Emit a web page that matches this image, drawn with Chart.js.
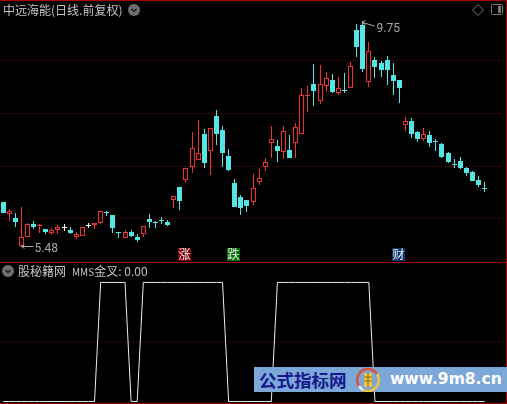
<!DOCTYPE html>
<html>
<head>
<meta charset="utf-8">
<title>中远海能</title>
<script src="https://cdn.jsdelivr.net/npm/chart.js@4"></script>
<style>
    html, body { margin: 0; padding: 0; background: #000; }
    #page { position: relative; width: 507px; height: 404px; overflow: hidden; background: #000; }
    canvas { position: absolute; left: 0; display: block; }
    .rule { position: absolute; background: #a80000; }
    .caption { position: absolute; color: #c4c4c4; font: 12px/14px "Noto Sans CJK SC", sans-serif; white-space: nowrap; }
    .caption .small { font-size: 10px; }
    svg { position: absolute; }
    #banner { position: absolute; left: 254px; top: 367px; width: 253px; height: 25px; background: #7ba7d9; }
    #banner .cn { position: absolute; left: 5px; top: 2px; color: #17188c; font: bold 17.5px/21px "Noto Sans CJK SC", sans-serif; white-space: nowrap; }
    #banner .url { position: absolute; left: 136px; top: 3px; color: #fff; font: bold 15.5px/19px "DejaVu Sans", sans-serif; white-space: nowrap; }
</style>
</head>
<body>
<div id="page">
    <canvas id="price_chart" width="507" height="262" style="top:0"></canvas>
    <canvas id="mms_chart" width="507" height="142" style="top:262px"></canvas>

    <!-- grid stops short of the right frame -->
    <div style="position:absolute;left:502px;top:0;width:5px;height:404px;background:#000"></div>
    <div class="rule" style="left:0;top:0;width:507px;height:1px"></div>
    <div class="rule" style="left:0;top:262px;width:507px;height:1px"></div>
    <div class="rule" style="left:0;top:403px;width:507px;height:1px"></div>
    <div class="rule" style="left:506px;top:0;width:1px;height:404px"></div>

    <div class="caption" style="left:3px;top:3px">中远海能(日线.前复权)</div>
    <div class="caption" style="left:18px;top:264px">股秘籍网</div>
    <div class="caption" style="left:72px;top:264px"><span class="small">MMS</span>金叉: 0.00</div>

    <svg style="left:128px;top:4px" width="12" height="12"><circle cx="6" cy="6" r="6" fill="#6e6e6e"/><path d="M3.5 5 L6 7.5 L8.5 5" fill="none" stroke="#111" stroke-width="1.2"/></svg>
    <svg style="left:2px;top:265px" width="12" height="12"><circle cx="6" cy="6" r="6" fill="#6e6e6e"/><path d="M3.5 5 L6 7.5 L8.5 5" fill="none" stroke="#111" stroke-width="1.2"/></svg>
    <svg style="left:472px;top:4px" width="12" height="12"><path d="M6 .5 L11.5 6 L6 11.5 L.5 6 Z" fill="none" stroke="#777"/></svg>
    <svg style="left:491px;top:4px" width="12" height="12"><rect x=".5" y=".5" width="11" height="10" rx="1" fill="none" stroke="#777"/><rect x="7" y="2" width="3" height="7" fill="#777"/></svg>

    <div id="banner">
        <div class="cn">公式指标网</div>
        <svg style="left:102px;top:1px" width="24" height="24">
            <path d="M3 18 A11 11 0 0 1 12 1 A11 11 0 0 1 21 6" fill="none" stroke="#d9533f" stroke-width="2.5"/>
            <path d="M21 6 A11 11 0 0 1 7 22" fill="none" stroke="#f0c53c" stroke-width="2.5"/>
            <path d="M3 18 A11 11 0 0 0 7 22" fill="none" stroke="#e8eef5" stroke-width="2.5"/>
            <rect x="8" y="5" width="8" height="14" fill="#f0c53c"/>
            <path d="M8 9 H16 M8 13 H16 M12 5 V19" stroke="#8a6a20" stroke-width="1"/>
        </svg>
        <div class="url">www.9m8.cn</div>
    </div>
</div>

<script>
// one slot per trading day, the last three stay empty on the right
const days = [
    1, 2, 3, 4, 5, 6, 7, 8, 9, 10, 11, 12, 13, 14, 15, 16, 17, 18, 19, 20,
    21, 22, 23, 24, 25, 26, 27, 28, 29, 30, 31, 32, 33, 34, 35, 36, 37, 38, 39, 40,
    41, 42, 43, 44, 45, 46, 47, 48, 49, 50, 51, 52, 53, 54, 55, 56, 57, 58, 59, 60,
    61, 62, 63, 64, 65, 66, 67, 68, 69, 70, 71, 72, 73, 74, 75, 76, 77, 78, 79, 80,
    81, 82, 83
];

const opens = [
    6.33, 6.10, 6.02, 5.49, 5.67, 5.91, 5.87, 5.82, 5.74, 5.80,
    5.85, 5.80, 5.67, 5.68, 5.89, 5.89, 5.93, 6.14, 6.08, 5.76,
    5.65, 5.76, 5.67, 5.72, 6.00, 5.95, 5.99, 5.95, 6.36, 6.61,
    6.74, 6.99, 7.12, 7.61, 7.29, 7.95, 7.69, 7.20, 6.68, 6.42,
    6.36, 6.33, 6.70, 6.99, 7.44, 7.38, 7.27, 7.31, 7.44, 7.61,
    8.33, 8.55, 8.23, 8.52, 8.63, 8.38, 8.44, 8.48, 9.57, 9.67,
    8.59, 9.01, 8.95, 9.01, 8.72, 8.63, 7.78, 7.86, 7.65, 7.52,
    7.59, 7.48, 7.42, 7.25, 7.04, 7.10, 6.97, 6.89, 6.74, 6.59
];
const closes = [
    6.12, 6.16, 5.95, 5.67, 5.91, 5.85, 5.89, 5.76, 5.80, 5.85,
    5.85, 5.74, 5.72, 5.85, 5.89, 5.93, 6.16, 6.12, 5.84, 5.74,
    5.76, 5.68, 5.61, 5.87, 5.95, 5.93, 5.97, 5.89, 6.44, 6.35,
    6.97, 7.35, 7.25, 7.06, 7.72, 7.61, 7.25, 6.93, 6.23, 6.21,
    6.25, 6.59, 6.78, 7.08, 7.52, 7.29, 7.67, 7.16, 7.74, 8.35,
    8.35, 8.42, 8.55, 8.67, 8.40, 8.48, 8.42, 8.90, 9.25, 8.84,
    9.18, 8.88, 8.82, 8.82, 8.61, 8.48, 7.86, 7.61, 7.52, 7.61,
    7.44, 7.46, 7.18, 7.08, 7.02, 6.97, 6.87, 6.72, 6.65, 6.57
];
const highs = [
    6.33, 6.19, 6.12, 6.23, 5.93, 5.97, 5.91, 5.82, 5.84, 5.89,
    5.91, 5.85, 5.76, 5.85, 5.93, 5.93, 6.16, 6.16, 6.08, 5.76,
    5.80, 5.80, 5.72, 5.87, 6.10, 5.97, 6.04, 5.99, 6.44, 6.61,
    6.97, 7.65, 7.87, 7.70, 7.72, 8.06, 7.76, 7.33, 6.76, 6.46,
    6.36, 6.85, 6.95, 7.16, 7.76, 7.50, 7.76, 7.59, 7.82, 8.48,
    8.52, 8.93, 8.91, 8.78, 8.74, 8.69, 8.76, 8.97, 9.69, 9.75,
    9.35, 9.06, 8.99, 9.08, 8.95, 8.63, 7.93, 7.91, 7.67, 7.72,
    7.67, 7.52, 7.44, 7.27, 7.14, 7.18, 6.99, 6.91, 6.82, 6.70
];
const lows = [
    6.12, 5.97, 5.85, 5.48, 5.67, 5.82, 5.74, 5.72, 5.70, 5.72,
    5.78, 5.72, 5.63, 5.68, 5.84, 5.82, 5.91, 6.06, 5.74, 5.65,
    5.65, 5.67, 5.57, 5.67, 5.84, 5.84, 5.91, 5.87, 6.21, 6.18,
    6.68, 6.87, 7.12, 6.97, 6.84, 7.40, 6.99, 6.91, 6.23, 6.08,
    6.14, 6.27, 6.65, 6.91, 7.16, 7.08, 7.14, 7.16, 7.16, 7.61,
    8.03, 8.14, 8.18, 8.40, 8.38, 8.35, 8.38, 8.48, 9.06, 8.78,
    8.50, 8.67, 8.69, 8.54, 8.35, 8.20, 7.67, 7.53, 7.46, 7.48,
    7.36, 7.29, 7.16, 7.06, 6.97, 6.95, 6.82, 6.72, 6.61, 6.52
];
const mmsValues = [
    0, 0, 0, 0, 0, 0, 0, 0, 0, 0, 0, 0, 0, 0, 0, 0, 100, 100, 100, 100,
    100, 0, 0, 100, 100, 100, 100, 100, 100, 100, 100, 100, 100, 100, 100, 100, 100, 0, 0, 0,
    0, 0, 0, 0, 0, 100, 100, 100, 100, 100, 100, 100, 100, 100, 100, 100, 100, 100, 100, 100,
    100, 0, 0, 0, 0, 0, 0, 0, 0, 0, 0, 0, 0, 0, 0, 0, 0, 0, 0, 0
];
const priceTicks = [6.01, 7, 8, 9];
const mmsTicks = [50];
const whiteDojiDays = [10, 14];
const signalDays = [30, 38, 65];
const signalLabels = ['涨', '跌', '财'];

const RED = '#f03030';
const CYAN = '#54e6e6';
const SIGNAL_COLORS = ['#7c0000', '#006e00', '#0c3468'];

function candleColor(i) {
    if (whiteDojiDays.includes(i)) return '#ffffff';
    return closes[i] > opens[i] ? RED : CYAN;
}

// the terminal draws on whole pixels, so snap each bar after the scales placed it
const snapBars = {
    id: 'snapBars',
    beforeDatasetsDraw(chart) {
        chart.data.datasets.forEach((ds, d) => {
            const meta = chart.getDatasetMeta(d);
            if (meta.type !== 'bar') return;
            meta.data.forEach((bar) => {
                bar.x = Math.floor(bar.x) + 0.5;
                bar.y = Math.round(bar.y);
                bar.base = Math.round(bar.base);
                if (bar.y === bar.base) bar.base = bar.y + 1;
            });
        });
    }
};

const priceMarks = {
    id: 'priceMarks',
    afterDatasetsDraw(chart) {
        const ctx = chart.ctx;
        const xs = chart.scales.x;
        const ys = chart.scales.y;
        const top = Math.max(...highs);
        const bottom = Math.min(...lows);
        const topX = Math.floor(xs.getPixelForValue(highs.indexOf(top))) + 0.5;
        const topY = Math.round(ys.getPixelForValue(top));
        const botX = Math.floor(xs.getPixelForValue(lows.indexOf(bottom))) + 0.5;
        const botY = Math.round(ys.getPixelForValue(bottom));

        ctx.save();
        ctx.strokeStyle = '#a8a8a8';
        ctx.fillStyle = '#a8a8a8';
        ctx.lineWidth = 1;
        ctx.beginPath();
        ctx.moveTo(topX, topY + 1.5);
        ctx.lineTo(topX + 12, topY + 5);
        ctx.moveTo(topX, topY + 1.5);
        ctx.lineTo(topX + 3, topY - 0.5);
        ctx.moveTo(topX, topY + 1.5);
        ctx.lineTo(topX + 3, topY + 3.5);
        ctx.moveTo(botX, botY - 0.5);
        ctx.lineTo(botX + 12, botY - 0.5);
        ctx.moveTo(botX, botY - 0.5);
        ctx.lineTo(botX + 3, botY - 2.5);
        ctx.moveTo(botX, botY - 0.5);
        ctx.lineTo(botX + 3, botY + 1.5);
        ctx.stroke();

        ctx.font = '12px Roboto';
        ctx.textBaseline = 'alphabetic';
        ctx.textAlign = 'left';
        ctx.fillText(top.toFixed(2), topX + 14, topY + 11);
        ctx.fillText(bottom.toFixed(2), botX + 13, botY + 5);

        signalDays.forEach((day, i) => {
            const x = Math.floor(xs.getPixelForValue(day));
            ctx.fillStyle = SIGNAL_COLORS[i];
            ctx.fillRect(x - 7, 248, 13, 13);
            ctx.fillStyle = '#f4f4f4';
            ctx.font = '12px "Noto Sans CJK SC"';
            ctx.textAlign = 'center';
            ctx.textBaseline = 'middle';
            ctx.fillText(signalLabels[i], x - 0.5, 254.5);
        });
        ctx.restore();
    }
};

function hiddenX() {
    return { display: false, grid: { display: false }, offset: true };
}

function dottedY(min, max, tickValues) {
    return {
        min: min,
        max: max,
        afterBuildTicks: (scale) => { scale.ticks = tickValues.map((v) => ({ value: v })); },
        ticks: { display: false },
        grid: { color: '#a00000', drawTicks: false },
        // offset puts the 1px dots on whole pixels, starting at x=1
        border: { display: false, dash: [1, 3], dashOffset: 3.07 }
    };
}

function baseOptions(yScale) {
    return {
        responsive: false,
        animation: false,
        events: [],
        layout: { autoPadding: false, padding: { left: 0.07, right: 1.03, top: 0, bottom: 0 } },
        plugins: { legend: { display: false }, tooltip: { enabled: false } },
        scales: { x: hiddenX(), y: yScale }
    };
}

document.addEventListener('DOMContentLoaded', () => {
    new Chart(document.getElementById('price_chart'), {
        type: 'bar',
        plugins: [snapBars, priceMarks],
        data: {
            labels: days,
            datasets: [{
                label: 'body',
                order: 1,
                data: opens.map((open, i) => [open, closes[i]]),
                backgroundColor: opens.map((open, i) => closes[i] > open ? '#000000' : candleColor(i)),
                borderColor: opens.map((open, i) => candleColor(i)),
                borderWidth: 1,
                borderSkipped: false,
                barThickness: 5,
                grouped: false,
                inflateAmount: 0
            }, {
                label: 'range',
                order: 2,
                data: lows.map((low, i) => [low, highs[i]]),
                backgroundColor: lows.map((low, i) => candleColor(i)),
                barThickness: 1,
                grouped: false,
                inflateAmount: 0,
                borderWidth: 0
            }]
        },
        options: baseOptions(dottedY(5.193, 10.141, priceTicks))
    });

    new Chart(document.getElementById('mms_chart'), {
        type: 'line',
        data: {
            labels: days,
            datasets: [{
                label: 'MMS金叉',
                data: mmsValues,
                borderColor: '#eeeeee',
                borderWidth: 1,
                pointRadius: 0,
                tension: 0
            }]
        },
        options: baseOptions(dottedY(-2.1, 117.13, mmsTicks))
    });
});
</script>
</body>
</html>
